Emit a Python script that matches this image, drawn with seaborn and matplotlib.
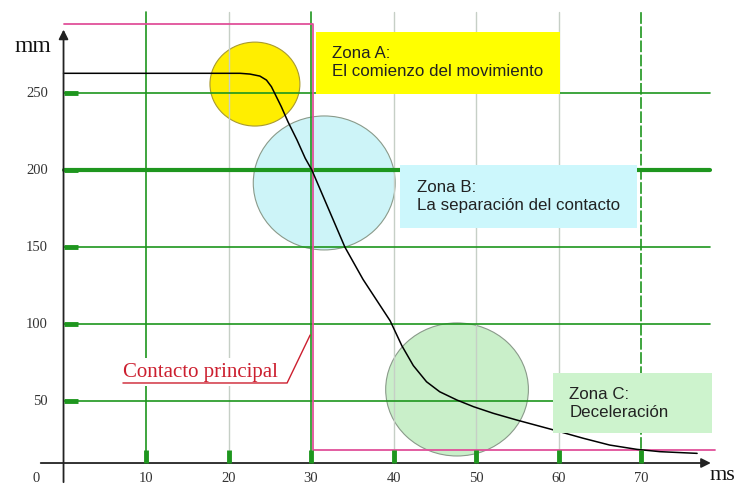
import numpy as np
import pandas as pd
import seaborn as sns
import matplotlib.pyplot as plt
from matplotlib.patches import Ellipse, Rectangle

# Curve: time (ms) vs. travel (mm)
time_ms = [0, 21.4, 22.6, 23.8, 24.6, 25.2, 25.8, 26.4, 27.2, 28.3, 29.3, 30.1,
           34.1, 36.3, 39.6, 41.0, 42.4, 44.0, 45.6, 47.7, 49.7, 52.1, 54.9,
           59.4, 63.0, 66.2, 69.5, 72.3, 76.8]
travel_mm = [262.8, 262.8, 262.3, 261.0, 258.4, 254.1, 247.6, 241.1, 231.4, 219.5,
             207.6, 200.0, 150.0, 129.0, 102.0, 86.0, 73.0, 62.5, 56.0, 50.6, 46.3,
             42.0, 37.7, 31.2, 25.8, 21.4, 18.6, 17.1, 16.0]

x_ticks = [10, 20, 30, 40, 50, 60, 70]
y_ticks = [50, 100, 150, 200, 250]

# Main contact trace (pink step)
contact_t = [0, 30.2, 30.2, 79.0]
contact_mm = [294.8, 294.8, 18.2, 18.2]

# Zones: label, circle centre/size (data units), box extents, colours
zone_labels = ["Zona A:\nEl comienzo del movimiento",
               "Zona B:\nLa separación del contacto",
               "Zona C:\nDeceleración"]
zone_centres = [(23.2, 255.8), (31.6, 191.6), (47.7, 57.5)]
zone_sizes = [(10.9, 54.5), (17.2, 87.0), (17.3, 86.4)]
zone_boxes = [(30.6, 249.4, 60.2, 289.6), (40.8, 162.3, 69.5, 203.2), (59.3, 29.2, 78.6, 68.2)]
zone_circle_colors = ["#ffee00", "#cdf4f8", "#c9efc9"]
zone_box_colors = ["#ffff00", "#ccf7fc", "#cdf3cd"]

GREEN = "#1e961e"
LIGHT = "#c6cfc6"
PINK = "#e0509a"
RED = "#cc1f2f"

sns.set_theme(style="white")
plt.rcParams['font.family'] = ['Liberation Sans', 'DejaVu Sans']

fig = plt.figure(figsize=(7.42, 4.87), dpi=100)
ax = fig.add_axes([0, 0, 1, 1])
ax.axis('off')
ax.set_xlim(-7.70, 82.24)
ax.set_ylim(-5.84, 310.4)

x_axis_y = 9.74
grid_top = 302.6
grid_right = 78.4

# Zone circles (under the grid)
for (cx, cy), (w, h), col in zip(zone_centres, zone_sizes, zone_circle_colors):
    ax.add_patch(Ellipse((cx, cy), w, h, facecolor=col, edgecolor="#8a9a8a", lw=0.8, zorder=1))
ax.patches[0].set_edgecolor("#a89a30")

# Vertical grid lines
for t in x_ticks:
    if t in (10, 30):
        ax.plot([t, t], [x_axis_y, grid_top], color=GREEN, lw=1.2, zorder=2)
    elif t == 70:
        ax.plot([t, t], [x_axis_y, grid_top], color=GREEN, lw=1.2, ls=(0, (7, 1.5)), zorder=2)
    else:
        ax.plot([t, t], [x_axis_y, grid_top], color=LIGHT, lw=1.0, zorder=2)

# Horizontal grid lines
for v in y_ticks:
    ax.plot([0, grid_right], [v, v], color=GREEN, lw=3.0 if v == 200 else 1.2, zorder=2)

# Pink contact line
ax.plot(contact_t, contact_mm, color=PINK, lw=1.3, zorder=3)

# Travel curve
df = pd.DataFrame({"ms": time_ms, "mm": travel_mm})
sns.lineplot(data=df, x="ms", y="mm", color="black", lw=1.1, ax=ax, zorder=4)

# Zone boxes with text
for label, (x0, y0, x1, y1), col in zip(zone_labels, zone_boxes, zone_box_colors):
    ax.add_patch(Rectangle((x0, y0), x1 - x0, y1 - y0, facecolor=col, edgecolor='none', zorder=5))
    ax.text(x0 + 2.0, (y0 + y1) / 2, label, fontsize=12.2, color="#222222",
            ha='left', va='center', linespacing=1.25, zorder=6)

# Axes with arrows
ax.annotate("", xy=(78.8, x_axis_y), xytext=(-3.1, x_axis_y),
            arrowprops=dict(arrowstyle='-|>', color='#222222', lw=1.3, mutation_scale=14), zorder=7)
ax.annotate("", xy=(0, 293), xytext=(0, -4.5),
            arrowprops=dict(arrowstyle='-|>', color='#222222', lw=1.3, mutation_scale=14), zorder=7)

# Thick tick marks
for v in y_ticks:
    ax.plot([0, 1.8], [v, v], color=GREEN, lw=3.5, solid_capstyle='butt', zorder=8)
    ax.text(-1.9, v, str(v), fontsize=10.5, family='Liberation Serif', color='#333333',
            ha='right', va='center')
for t in x_ticks:
    ax.plot([t, t], [x_axis_y, 18.2], color=GREEN, lw=3.5, solid_capstyle='butt', zorder=8)
    ax.text(t, 0, str(t), fontsize=10.5, family='Liberation Serif', color='#333333',
            ha='center', va='center')
ax.text(-3.3, 0, "0", fontsize=10.5, family='Liberation Serif', color='#333333',
        ha='center', va='center')

# Axis units
ax.text(-3.7, 280.5, "mm", fontsize=17, family='Liberation Serif', color='#111111',
        ha='center', va='center')
ax.text(78.3, 1.8, "ms", fontsize=16, family='Liberation Serif', color='#111111',
        ha='left', va='center')

# "Contacto principal" callout
ax.text(7.2, 68.8, "Contacto principal", fontsize=15, family='Liberation Serif', color=RED,
        ha='left', va='center', zorder=6,
        bbox=dict(facecolor='white', edgecolor='none', pad=3))
ax.plot([7.2, 27.1, 29.9], [61.7, 61.7, 92.9], color=RED, lw=1.0, zorder=7)

fig.savefig("out.png", dpi=100)
